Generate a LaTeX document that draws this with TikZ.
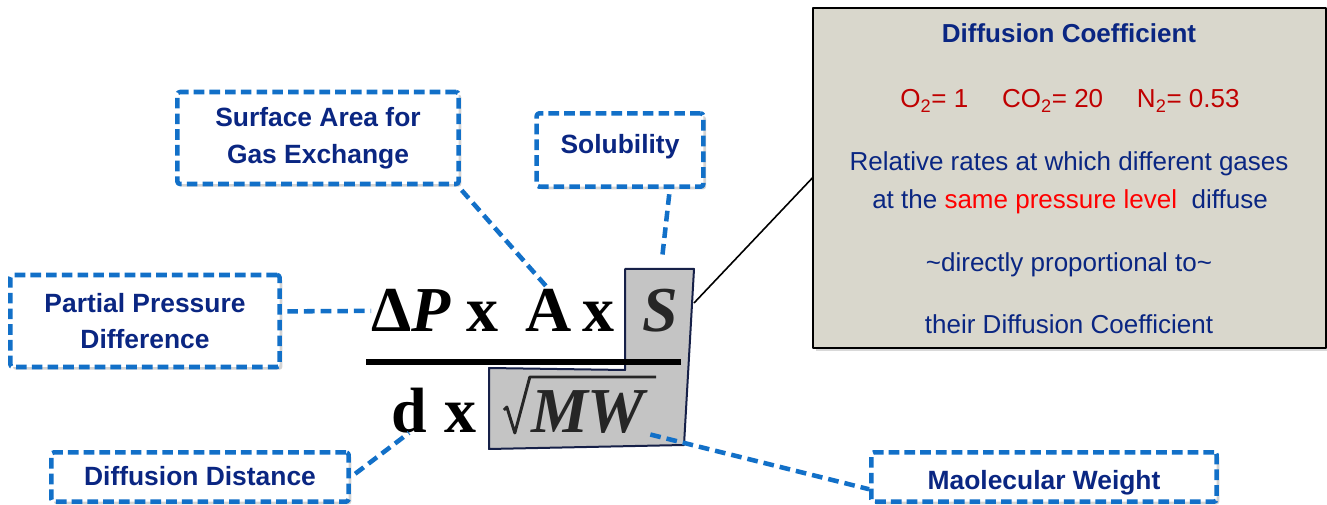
\documentclass[tikz,border=0pt]{standalone}
\usepackage[no-math]{fontspec}
\setmainfont{Liberation Sans}
\newfontfamily\eqfont{Liberation Serif}
\usetikzlibrary{shadows}

\definecolor{labelblue}{RGB}{18,112,200}
\definecolor{labeltext}{RGB}{10,38,130}
\definecolor{coefred}{RGB}{192,0,0}
\definecolor{brightred}{RGB}{255,0,0}
\definecolor{panelgray}{RGB}{217,215,204}
\definecolor{boxgray}{RGB}{196,196,196}
\definecolor{boxedge}{RGB}{22,32,72}
\definecolor{termgray}{RGB}{38,38,38}

\begin{document}
\begin{tikzpicture}[
    x=0.75pt,
    y=-0.75pt,
    line join=round,
    factor node/.style={draw=labelblue,line width=3.4pt,dash pattern=on 8pt off 3.8pt,
      fill=white,rounded corners=2pt,inner sep=0pt,align=center,text=labeltext,
      drop shadow={shadow xshift=2pt,shadow yshift=-2pt,opacity=0.35},
      font=\fontsize{19.8}{27.5}\selectfont\bfseries},
    panel node/.style={draw=black,line width=1.3pt,fill=panelgray,inner sep=0pt,
      drop shadow={shadow xshift=2pt,shadow yshift=-2pt,opacity=0.3}},
    panel text/.style={anchor=base,inner sep=0pt,text=labeltext,font=\fontsize{19.5}{24}\selectfont},
    term node/.style={anchor=base,inner sep=0pt,font=\eqfont\fontsize{48}{52}\selectfont\bfseries},
    link/.style={draw=labelblue,line width=3.4pt,dash pattern=on 8pt off 4.5pt,shorten <=4pt}]

  \useasboundingbox (0,0) rectangle (1327,505);

  % gray L shape round S and sqrt(MW)
  \coordinate (g1) at (625,269);
  \coordinate (g2) at (694,269);
  \coordinate (g3) at (684,445);
  \coordinate (g4) at (489,449);
  \coordinate (g5) at (489,368);
  \coordinate (g6) at (625,370);
  \coordinate (Sright) at (694,303);
  \coordinate (solTip) at (662,259);
  \draw[fill=boxgray,draw=boxedge,line width=1.5pt] (g1) -- (g2) -- (g3) -- (g4) -- (g5) -- (g6) -- cycle;

  % fraction bar
  \coordinate (barL) at (366,362);
  \coordinate (barR) at (681,362);
  \draw[line width=3.8pt] (barL) -- (barR);

  % the equation
  \node[term node] (dP) at (411,332) {Δ\itshape P};
  \node[term node] (x1) at (482,332) {x};
  \node[term node] (A)  at (549,332) {A};
  \node[term node] (x2) at (598,332) {x};
  \node[term node,text=termgray] (S) at (660,332) {\itshape S};
  \node[term node] (d)  at (409,432) {d};
  \node[term node] (x3) at (460,432) {x};
  \node[term node,text=termgray] (MW) at (588,432) {\itshape MW};
  % radical sign
  \draw[termgray,line width=2.2pt] (MW.west |- 0,410) ++(-27,0) -- ++(3,-3) -- ++(8,26) -- ++(15,-56) -- (656,377);

  % factor boxes
  \node[factor node,minimum width=211pt,minimum height=69pt] (SAG) at (318,138) {Surface Area for\\Gas Exchange};
  \node[factor node,minimum width=125pt,minimum height=55pt] (Sol) at (620,150) {\raisebox{3pt}[15pt][4pt]{Solubility}};
  \node[factor node,minimum width=202pt,minimum height=69pt] (PPD) at (145,321) {Partial Pressure\\Difference};
  \node[factor node,minimum width=223pt,minimum height=37pt] (DD) at (200,477) {\raisebox{-1pt}[15pt][4pt]{Diffusion Distance}};
  \node[factor node,minimum width=259pt,minimum height=37pt] (MWB) at (1044,477) {\raisebox{-4pt}[15pt][4pt]{Maolecular Weight}};

  % coefficient panel
  \node[panel node,minimum width=384.5pt,minimum height=255pt] (DC) at (1069.5,178) {};
  \node[panel text,font=\fontsize{19.5}{24}\selectfont\bfseries] (dcTitle) at (1069,43) {Diffusion Coefficient};
  \node[panel text,text=coefred] (dcValues) at (1070,108)
    {O\textsubscript{2}= 1\hspace{1.3em}CO\textsubscript{2}= 20\hspace{1.3em}N\textsubscript{2}= 0.53};
  \node[panel text] (dcRates) at (1069,171) {Relative rates at which different gases};
  \node[panel text] (dcLevel) at (1070,209) {at the \textcolor{brightred}{same pressure level}\ \ diffuse};
  \node[panel text] (dcProp) at (1069,272) {\textasciitilde directly proportional to\textasciitilde};
  \node[panel text] (dcTheir) at (1069,334) {their Diffusion Coefficient};

  \path[every edge/.style={link}]
    (PPD.4)         edge (dP.west)
    (SAG.-19)       edge (A.north)
    (Sol.-38)       edge (solTip)
    (DD.east)       edge (d.south)
    (MW.south east) edge (MWB.184);

  \draw[line width=1.2pt] (Sright) -- (DC.west);
\end{tikzpicture}
\end{document}
